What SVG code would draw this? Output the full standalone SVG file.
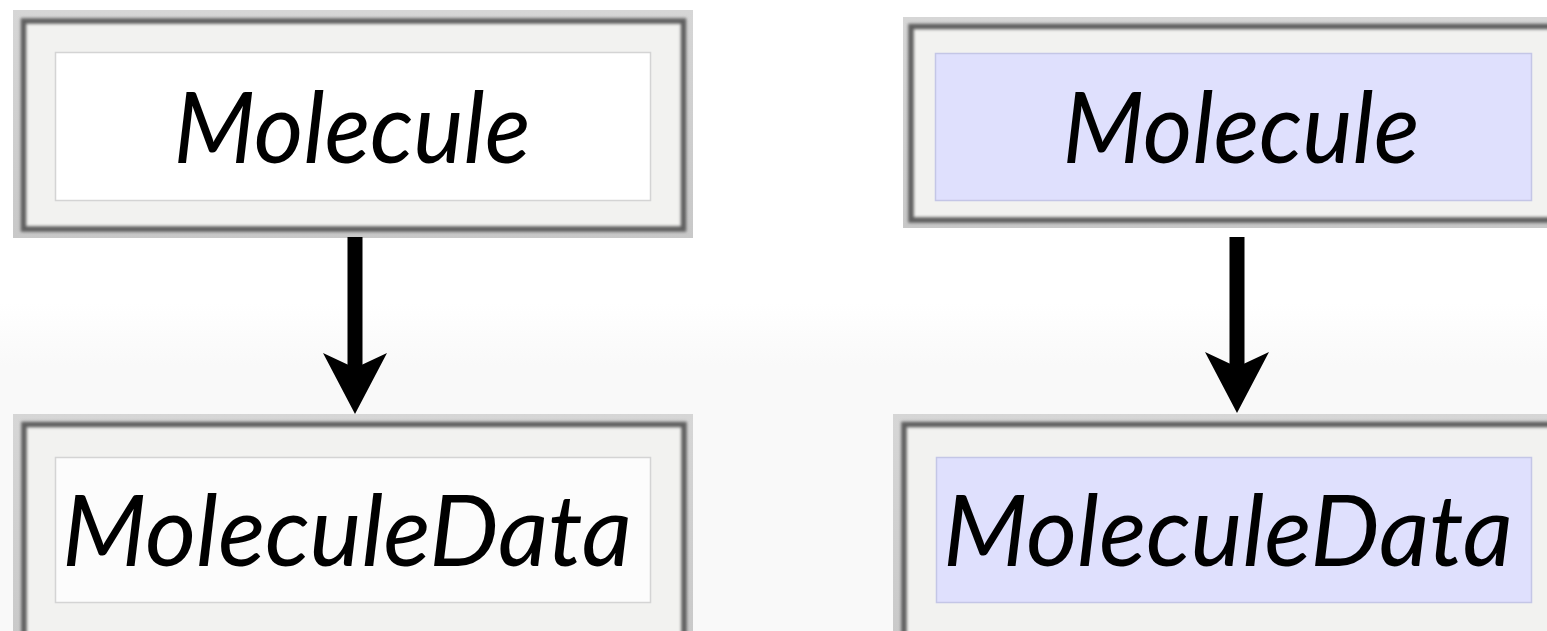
<svg xmlns="http://www.w3.org/2000/svg" width="1547" height="631" viewBox="0 0 1547 631">
  <defs>
    <filter id="soft" x="-5%" y="-5%" width="110%" height="110%">
      <feGaussianBlur stdDeviation="1.6"/>
    </filter>
    <linearGradient id="rimV" x1="0" y1="0" x2="0" y2="1">
      <stop offset="0" stop-color="#d6d6d6"/>
      <stop offset="1" stop-color="#c8c8c8"/>
    </linearGradient>
    <linearGradient id="page" x1="0" y1="0" x2="0" y2="1">
      <stop offset="0" stop-color="#ffffff"/>
      <stop offset="0.48" stop-color="#ffffff"/>
      <stop offset="0.58" stop-color="#f9f9f9"/>
      <stop offset="1" stop-color="#f9f9f9"/>
    </linearGradient>
    <!-- notched arrowhead; reference point sits in the notch -->
    <marker id="head" viewBox="0 0 61 64" refX="15" refY="32" markerWidth="61" markerHeight="64" markerUnits="userSpaceOnUse" orient="auto">
      <path d="M0,0 L15,32 L0,64 L61,32 Z" fill="#000"/>
    </marker>
  </defs>
  <style>
    .rim { fill: url(#rimV); }
    .mat { fill: #f2f2f0; }
    .groove { fill: none; stroke: #5e5e5e; stroke-width: 5.5; filter: url(#soft); }
    .plain { fill: #ffffff; stroke: #d4d4d4; stroke-width: 1.5; }
    .tinted { fill: #dfe0fd; stroke: #c4c6e6; stroke-width: 1.5; }
    .label { font-family: Lato, "Open Sans", "DejaVu Sans", sans-serif; font-style: italic; font-size: 100px; fill: #000; text-anchor: middle; }
    .link { stroke: #000; stroke-width: 15; fill: none; }
  </style>

  <!-- page -->
  <rect x="0" y="0" width="1547" height="631" fill="url(#page)"/>

  <!-- left column -->
  <g id="molecule-left">
    <rect class="rim" x="13" y="10" width="680" height="228"/>
    <rect class="mat" x="23" y="20" width="661" height="209"/>
    <rect class="groove" x="23.5" y="21" width="660" height="208"/>
    <rect class="plain" x="55.5" y="52.5" width="595" height="148"/>
    <text class="label" x="352" y="163" textLength="357" lengthAdjust="spacingAndGlyphs">Molecule</text>
  </g>

  <g id="moleculedata-left">
    <rect class="rim" x="13" y="414" width="680" height="240"/>
    <rect class="mat" x="24" y="424" width="660" height="230"/>
    <rect class="groove" x="24" y="424.5" width="660" height="230"/>
    <rect class="plain" x="55.5" y="457.5" width="595" height="145" style="fill:#fcfcfc"/>
    <text class="label" x="347" y="566" textLength="570" lengthAdjust="spacingAndGlyphs">MoleculeData</text>
  </g>

  <!-- right column -->
  <g id="molecule-right">
    <rect class="rim" x="903" y="17" width="680" height="211"/>
    <rect class="mat" x="911" y="26" width="660" height="194"/>
    <rect class="groove" x="911" y="26.5" width="660" height="193.5"/>
    <rect class="tinted" x="935.5" y="53.5" width="596" height="147"/>
    <text class="label" x="1241" y="163" textLength="357" lengthAdjust="spacingAndGlyphs">Molecule</text>
  </g>

  <g id="moleculedata-right">
    <rect class="rim" x="893" y="414" width="690" height="240"/>
    <rect class="mat" x="904" y="424" width="670" height="230"/>
    <rect class="groove" x="904" y="424.5" width="670" height="230"/>
    <rect class="tinted" x="936.5" y="457.5" width="595" height="145"/>
    <text class="label" x="1228" y="566" textLength="570" lengthAdjust="spacingAndGlyphs">MoleculeData</text>
  </g>

  <!-- connectors -->
  <g id="connectors">
    <line class="link" x1="355" y1="237" x2="355" y2="368" marker-end="url(#head)"/>
    <line class="link" x1="1237" y1="237" x2="1237" y2="367" marker-end="url(#head)"/>
  </g>
</svg>
